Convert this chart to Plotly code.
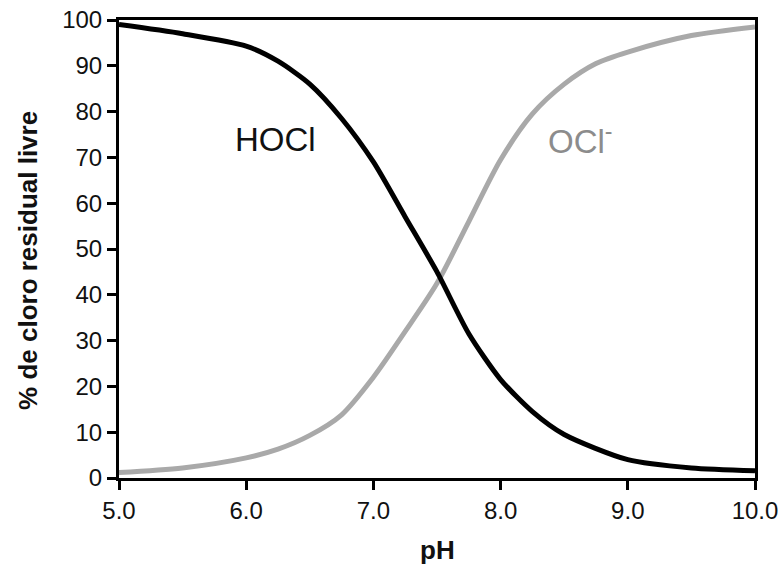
import plotly.graph_objects as go

# pH values and species percentages
ph_hocl = [5.0, 5.5, 6.0, 6.25, 6.5, 6.75, 7.0, 7.25, 7.5, 7.75, 8.0, 8.25, 8.5, 9.0, 9.5, 10.0]
pct_hocl = [99.0, 97.0, 94.3, 91.0, 86.0, 78.5, 69.0, 57.0, 45.0, 31.5, 21.5, 14.5, 9.5, 4.0, 2.2, 1.6]

ph_ocl = [5.0, 5.5, 6.0, 6.25, 6.5, 6.75, 7.0, 7.25, 7.5, 7.75, 8.0, 8.25, 8.5, 8.75, 9.0, 9.5, 10.0]
pct_ocl = [1.2, 2.2, 4.4, 6.3, 9.3, 13.8, 22.0, 32.0, 42.5, 56.0, 69.5, 79.5, 86.0, 90.5, 93.0, 96.6, 98.5]

x_ticks = [5.0, 6.0, 7.0, 8.0, 9.0, 10.0]
y_ticks = [0, 10, 20, 30, 40, 50, 60, 70, 80, 90, 100]

FONT = "Liberation Sans, Arial, Helvetica, sans-serif"

fig = go.Figure()
fig.add_trace(go.Scatter(x=ph_ocl, y=pct_ocl, mode="lines",
                         line=dict(color="#a9a9a9", width=5, shape="spline", smoothing=0.8),
                         showlegend=False, hoverinfo="skip"))
fig.add_trace(go.Scatter(x=ph_hocl, y=pct_hocl, mode="lines",
                         line=dict(color="#000000", width=5, shape="spline", smoothing=0.7),
                         showlegend=False, hoverinfo="skip"))

fig.add_annotation(x=6.23, y=74.0, text="HOCl", showarrow=False,
                   font=dict(family=FONT, size=33, color="#111111"))
fig.add_annotation(x=8.63, y=74.0, text="OCl<sup>-</sup>", showarrow=False,
                   font=dict(family=FONT, size=33, color="#8c8c8c"))

# axis titles
fig.add_annotation(xref="paper", yref="paper", x=0.5, y=-0.158, yanchor="middle",
                   text="<b>pH</b>", showarrow=False,
                   font=dict(family=FONT, size=26, color="#111111"))
fig.add_annotation(xref="paper", yref="paper", x=-0.143, y=0.474, xanchor="center",
                   yanchor="middle", textangle=-90,
                   text="<b>% de cloro residual livre</b>", showarrow=False,
                   font=dict(family=FONT, size=26, color="#111111"))

fig.update_layout(
    width=779, height=574,
    margin=dict(l=119, r=24, t=20, b=96),
    paper_bgcolor="white", plot_bgcolor="white",
    font=dict(family=FONT, size=24, color="#111111"),
)
fig.update_xaxes(
    range=[5.0, 10.0], tickvals=x_ticks, ticktext=[f"{v:.1f}" for v in x_ticks],
    ticks="outside", ticklen=9, tickwidth=3, tickcolor="black",
    showline=True, linewidth=3, linecolor="black", mirror=True,
    showgrid=False, zeroline=False, automargin=False,
    tickfont=dict(size=24),
)
fig.update_yaxes(
    range=[0, 100], tickvals=y_ticks,
    ticks="outside", ticklen=9, tickwidth=3, tickcolor="black",
    showline=True, linewidth=3, linecolor="black", mirror=True,
    showgrid=False, zeroline=False, automargin=False,
    tickfont=dict(size=24),
)

# remove the default page margin so the 779x574 figure fills the window exactly
fig.write_html(
    "out.html",
    config={"displayModeBar": False},
    post_script="document.body.style.margin='0';document.body.style.overflow='hidden';",
)
